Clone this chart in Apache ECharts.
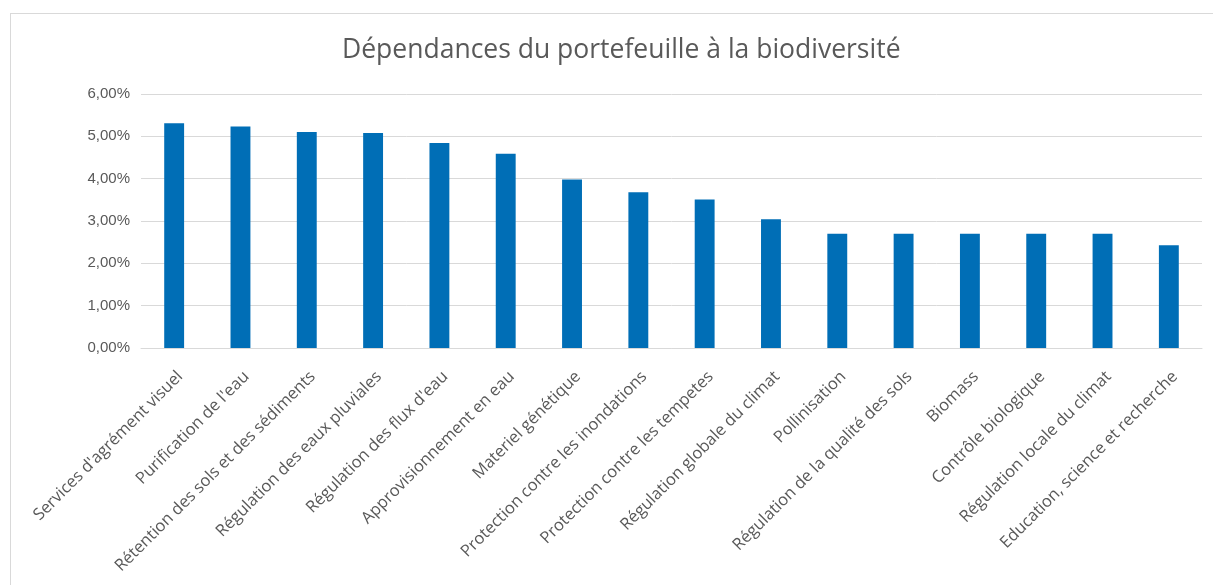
<!DOCTYPE html>
<html>

<head>
  <meta charset="utf-8">
  <title>Dépendances du portefeuille à la biodiversité</title>
  <script src="https://cdn.jsdelivr.net/npm/echarts@6/dist/echarts.min.js"></script>
  <style>
    html, body { margin: 0; padding: 0; background: #fff; overflow: hidden; }
    #frame { position: absolute; left: 10px; top: 13px; width: 1250px; height: 600px; border-left: 1px solid #d9d9d9; border-top: 1px solid #d9d9d9; }
  </style>
</head>

<body>
  <div id="frame"></div>
  <div id="chart" style="position:absolute;left:0;top:0;width: 1213px;height:585px;"></div>
  <script>
    const categories = [
      "Services d'agrément visuel",
      "Purification de l'eau",
      "Rétention des sols et des sédiments",
      "Régulation des eaux pluviales",
      "Régulation des flux d'eau",
      "Approvisionnement en eau",
      "Materiel génétique",
      "Protection contre les inondations",
      "Protection contre les tempetes",
      "Régulation globale du climat",
      "Pollinisation",
      "Régulation de la qualité des sols",
      "Biomass",
      "Contrôle biologique",
      "Régulation locale du climat",
      "Education, science et recherche"
    ];
    const values = [5.31, 5.23, 5.10, 5.08, 4.84, 4.59, 3.98, 3.68, 3.51, 3.04, 2.70, 2.70, 2.70, 2.70, 2.70, 2.43];

    let myChart = echarts.init(document.getElementById('chart'));
    let option = {
      animation: false,
      title: {
        text: 'Dépendances du portefeuille à la biodiversité',
        left: 337,
        top: 32,
        textStyle: {
          fontFamily: 'Open Sans',
          fontSize: 26.5,
          fontWeight: 'normal',
          color: '#595959'
        }
      },
      grid: {
        left: 141,
        right: 11,
        top: 94,
        bottom: 237
      },
      xAxis: {
        type: 'category',
        data: categories,
        axisLine: { lineStyle: { color: '#d9d9d9', width: 1 } },
        axisTick: { show: false },
        axisLabel: {
          rotate: 45,
          interval: 0,
          margin: 20,
          verticalAlign: 'top',
          fontFamily: 'Open Sans',
          fontSize: 16.5,
          color: '#595959'
        }
      },
      yAxis: {
        type: 'value',
        min: 0,
        max: 6,
        interval: 1,
        axisLine: { show: false },
        axisTick: { show: false },
        splitLine: { lineStyle: { color: '#d9d9d9', width: 1 } },
        axisLabel: {
          margin: 11,
          fontFamily: 'Liberation Sans',
          fontSize: 15,
          color: '#595959',
          formatter: function (v) {
            return v.toFixed(2).replace('.', ',') + '%';
          }
        }
      },
      series: [{
        type: 'bar',
        data: values,
        barWidth: '30%',
        itemStyle: { color: '#006EB6' }
      }]
    };
    myChart.setOption(option);
  </script>

</body>

</html>
